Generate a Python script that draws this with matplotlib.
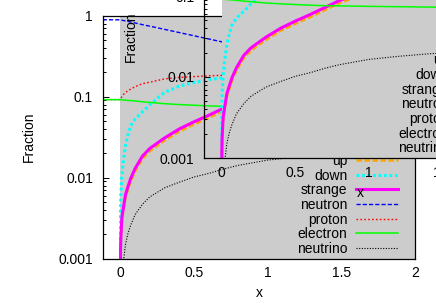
import numpy as np
import matplotlib.pyplot as plt

plt.rcParams['font.family'] = ['Liberation Sans', 'DejaVu Sans']
plt.rcParams['font.size'] = 10

nan = np.nan

# fractions vs x (same grid for all species)
x = [-0.12, 0.0, 0.001, 0.003, 0.01, 0.02, 0.035, 0.05, 0.07, 0.1, 0.15, 0.2,
     0.3, 0.4, 0.5, 0.6, 0.7, 0.8, 1.0, 1.2, 1.4, 1.6, 1.8, 2.0]
up = [nan, 1e-6, 0.0011, 0.0016, 0.0029, 0.0039, 0.0057, 0.0070, 0.0090, 0.012,
      0.0171, 0.0213, 0.0288, 0.0372, 0.0455, 0.0548, 0.067, 0.082, 0.112, 0.14,
      0.168, 0.195, 0.215, 0.232]
down = [nan, 1e-6, 0.0040, 0.0060, 0.0105, 0.016, 0.025, 0.033, 0.044, 0.053,
        0.065, 0.080, 0.113, 0.135, 0.150, 0.162, 0.172, 0.179, 0.19, 0.20,
        0.205, 0.21, 0.215, 0.22]
strange = [nan, 1e-6, 0.0012, 0.0018, 0.0032, 0.0042, 0.0062, 0.0076, 0.0098,
           0.013, 0.0185, 0.023, 0.031, 0.040, 0.049, 0.059, 0.072, 0.088, 0.12,
           0.15, 0.18, 0.21, 0.23, 0.25]
neutron = [0.89, 0.89, 0.889, 0.887, 0.88, 0.872, 0.86, 0.85, 0.835, 0.813, 0.775,
           0.743, 0.678, 0.619, 0.565, 0.516, 0.471, 0.43, 0.36, 0.30, 0.255,
           0.215, 0.185, 0.16]
proton = [0.092, 0.092, 0.093, 0.095, 0.1, 0.106, 0.113, 0.118, 0.124, 0.133,
          0.145, 0.151, 0.166, 0.173, 0.177, 0.181, 0.184, 0.186, 0.188, 0.189,
          0.19, 0.19, 0.19, 0.19]
electron = [0.092, 0.092, 0.092, 0.092, 0.0915, 0.091, 0.0905, 0.09, 0.0895,
            0.0885, 0.0865, 0.085, 0.082, 0.080, 0.0785, 0.077, 0.076, 0.0755,
            0.0745, 0.0738, 0.073, 0.0725, 0.072, 0.0715]
neutrino = [nan, 1e-6, 0.0001, 0.0003, 0.0006, 0.0009, 0.0015, 0.002, 0.0026,
            0.0035, 0.0047, 0.0058, 0.0075, 0.0088, 0.0102, 0.0113, 0.0128,
            0.0142, 0.0165, 0.018, 0.0193, 0.0203, 0.021, 0.0217]

xticks = [0, 0.5, 1, 1.5, 2]
xlabels = ['0', '0.5', '1', '1.5', '2']
yticks = [0.001, 0.01, 0.1, 1]
ylabels = ['0.001', '0.01', '0.1', '1']


def draw(ax):
    ax.set_facecolor('none')
    ax.axvspan(0, 2, color='#cccccc', lw=0, zorder=0.5)
    ax.plot(x, up, color='#ffa500', lw=1.8, dashes=(2.2, 1.0), label='up')
    ax.plot(x, down, color='#00ffff', lw=2.2, dashes=(0.9, 0.9), label='down')
    ax.plot(x, strange, color='#ff00ff', lw=2.2, label='strange')
    ax.plot(x, neutron, color='#0000ff', lw=1.0, dashes=(3.0, 1.5), label='neutron')
    ax.plot(x, proton, color='#ff0000', lw=1.0, dashes=(1.2, 1.6), label='proton')
    ax.plot(x, electron, color='#00ff00', lw=1.1, label='electron')
    ax.plot(x, neutrino, color='black', lw=0.8, dashes=(1.0, 1.4), label='neutrino')

    ax.set_yscale('log')
    ax.set_xlim(-0.12, 2)
    ax.set_ylim(1e-3, 1)
    ax.set_xticks(xticks, xlabels)
    ax.set_yticks(yticks, ylabels)
    ax.tick_params(axis='x', length=0, pad=5.5)
    ax.tick_params(axis='y', which='major', direction='in', length=4.5, width=0.7, pad=7)
    ax.tick_params(axis='y', which='minor', direction='in', length=2.3, width=0.7)
    for s in ax.spines.values():
        s.set_linewidth(0.9)
    ax.set_xlabel('x')
    ax.set_ylabel('Fraction')
    ax.xaxis.set_label_coords(0.5, -0.114)
    ax.yaxis.set_label_coords(-0.213, 0.5)
    ax.legend(loc='lower right', bbox_to_anchor=(0.9455, 0.011), frameon=False,
              markerfirst=False, handlelength=3.0, handletextpad=0.65,
              labelspacing=0.05, borderpad=0, borderaxespad=0)


fig = plt.figure(figsize=(4.36, 3.05), dpi=100)
ax1 = fig.add_axes([102.7 / 436, (305 - 258.7) / 305, 312.3 / 436, 243 / 305])
ax2 = fig.add_axes([204 / 436, (305 - 158) / 305, 312.3 / 436, 243 / 305])
ax2.set_zorder(2)
draw(ax1)
draw(ax2)

fig.savefig('out.png', dpi=100)
